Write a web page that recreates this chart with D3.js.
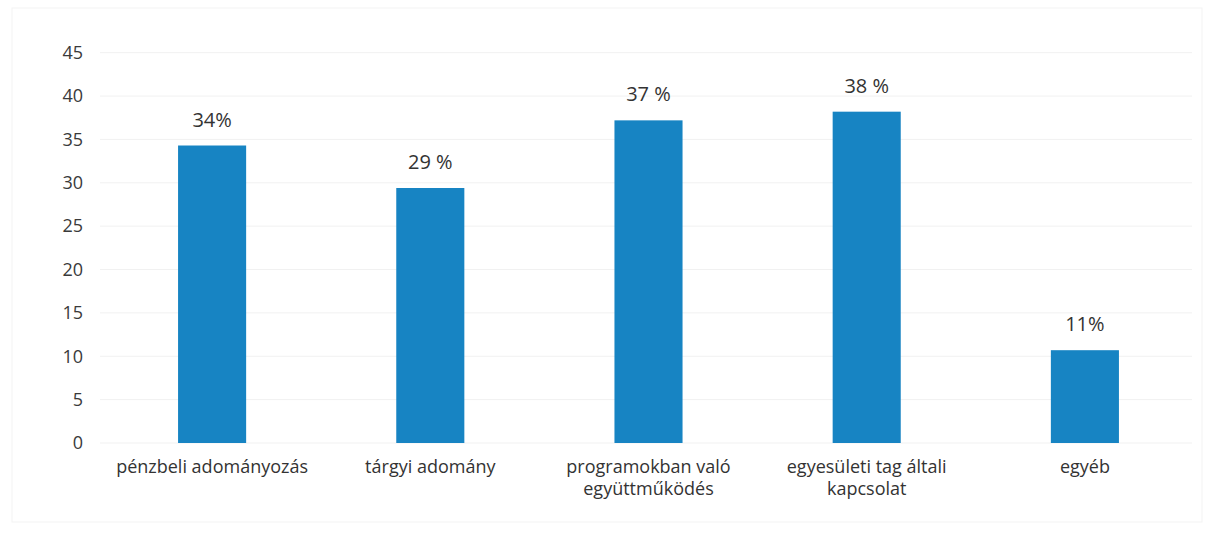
<!DOCTYPE html>
<html>
<head>
<meta charset="utf-8">
<script src="https://cdn.jsdelivr.net/npm/d3@7"></script>
<style>
  body { margin: 0; background: #fff; }
  svg { display: block; font-family: "Open Sans", sans-serif; }
</style>
</head>
<body>
<div id="chart"></div>
<script>
var categories = [["pénzbeli adományozás"], ["tárgyi adomány"], ["programokban való", "együttműködés"], ["egyesületi tag általi", "kapcsolat"], ["egyéb"]];
var values = [34.3, 29.4, 37.2, 38.2, 10.7];
var valueLabels = ["34%", "29 %", "37 %", "38 %", "11%"];
var yTicks = [0, 5, 10, 15, 20, 25, 30, 35, 40, 45];

var width = 1211,
    height = 533;

var svg = d3.select("#chart").append("svg")
    .attr("width", width)
    .attr("height", height);

// faint frame of the scanned chart area
svg.append("rect")
    .attr("x", 12).attr("y", 8)
    .attr("width", 1190).attr("height", 514)
    .attr("fill", "none")
    .attr("stroke", "#f3f3f3");

var x = d3.scaleBand()
    .domain(d3.range(categories.length))
    .range([103, 1194])
    .paddingInner(0.688)
    .paddingOuter(0.344);

var y = d3.scaleLinear()
    .domain([0, 45])
    .range([443, 52.7]);

// gridlines
svg.append("g")
    .selectAll("line")
    .data(yTicks).enter()
    .append("line")
    .attr("x1", 100)
    .attr("x2", 1192)
    .attr("y1", function(d) { return y(d); })
    .attr("y2", function(d) { return y(d); })
    .attr("stroke", "#f1f1f1")
    .attr("stroke-width", 1);

// y axis labels
var yAxis = d3.axisLeft(y).tickValues(yTicks).tickSize(0).tickPadding(0);
var ya = svg.append("g")
    .attr("transform", "translate(83,0)")
    .call(yAxis);
ya.select(".domain").remove();
ya.selectAll("text")
    .attr("font-size", 18)
    .attr("fill", "#3a3a3a")
    .style("font-family", "'Open Sans', sans-serif");

// bars
svg.append("g")
    .selectAll("rect")
    .data(values).enter()
    .append("rect")
    .attr("x", function(d, i) { return x(i); })
    .attr("y", function(d) { return y(d); })
    .attr("width", x.bandwidth())
    .attr("height", function(d) { return y(0) - y(d); })
    .attr("fill", "#1784c3");

// value labels
svg.append("g")
    .selectAll("text")
    .data(values).enter()
    .append("text")
    .attr("x", function(d, i) { return x(i) + x.bandwidth() / 2; })
    .attr("y", function(d) { return y(d) - 19; })
    .attr("text-anchor", "middle")
    .attr("font-size", 20)
    .attr("fill", "#333")
    .text(function(d, i) { return valueLabels[i]; });

// category labels
var cat = svg.append("g")
    .selectAll("text")
    .data(categories).enter()
    .append("text")
    .attr("x", function(d, i) { return x(i) + x.bandwidth() / 2; })
    .attr("y", 473)
    .attr("text-anchor", "middle")
    .attr("font-size", 18)
    .attr("fill", "#333");

cat.selectAll("tspan")
    .data(function(d) { return d; }).enter()
    .append("tspan")
    .attr("x", function() { return d3.select(this.parentNode).attr("x"); })
    .attr("dy", function(d, i) { return i === 0 ? 0 : 22; })
    .text(function(d) { return d; });
</script>
</body>
</html>
